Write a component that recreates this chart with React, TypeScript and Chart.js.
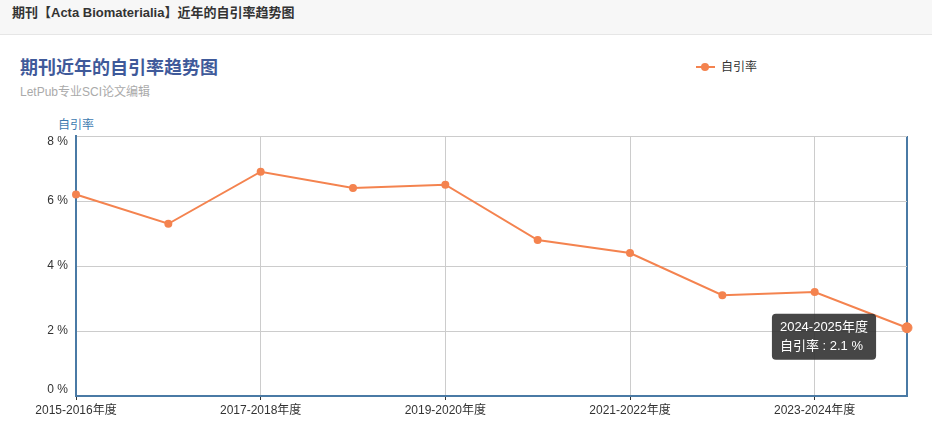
import React, { useEffect, useRef } from "react";
import { Chart, registerables, Tooltip } from "chart.js";

Chart.register(...registerables);

const categories = [
  "2015-2016年度",
  "2016-2017年度",
  "2017-2018年度",
  "2018-2019年度",
  "2019-2020年度",
  "2020-2021年度",
  "2021-2022年度",
  "2022-2023年度",
  "2023-2024年度",
  "2024-2025年度",
];
const selfCitationRate = [6.2, 5.3, 6.9, 6.4, 6.5, 4.8, 4.4, 3.1, 3.2, 2.1];
const yTicks = [0, 2, 4, 6, 8];
const seriesName = "自引率";

const FONT = '"Liberation Sans", "Noto Sans CJK SC", Arial, sans-serif';
const LINE_COLOR = "#f4834f";
const AXIS_COLOR = "#4a7aa5";
const GRID_COLOR = "#cccccc";

(Tooltip.positioners as any).fixedNear = function (items: any[]) {
  if (!items.length) return false;
  const el = items[0].element;
  return { x: el.x - 83, y: el.y + 9, xAlign: "center", yAlign: "center" };
};

export default function App() {
  const canvasRef = useRef<HTMLCanvasElement | null>(null);

  useEffect(() => {
    document.body.style.margin = "0";
    const canvas = canvasRef.current!;
    const lastIdx = categories.length - 1;
    const yMin = yTicks[0];
    const yMax = yTicks[yTicks.length - 1];
    const chart = new Chart(canvas, {
      type: "line",
      data: {
        labels: categories,
        datasets: [
          {
            label: seriesName,
            data: selfCitationRate,
            borderColor: LINE_COLOR,
            backgroundColor: LINE_COLOR,
            borderWidth: 2,
            pointRadius: 3,
            pointHoverRadius: 5,
            pointBackgroundColor: LINE_COLOR,
            pointBorderColor: LINE_COLOR,
            pointHoverBackgroundColor: LINE_COLOR,
            pointHoverBorderColor: LINE_COLOR,
            tension: 0,
            fill: false,
          },
        ],
      },
      options: {
        responsive: false,
        maintainAspectRatio: false,
        animation: false,
        events: [],
        layout: { padding: { left: 0, right: 25, top: 100, bottom: 0 } },
        plugins: {
          legend: { display: false },
          title: { display: false },
          tooltip: {
            enabled: true,
            position: "fixedNear" as any,
            backgroundColor: "rgba(50,50,50,0.9)",
            titleColor: "#ffffff",
            bodyColor: "#ffffff",
            titleFont: { family: FONT, size: 13, weight: "normal" as any },
            bodyFont: { family: FONT, size: 13 },
            titleMarginBottom: 3,
            padding: { x: 8, y: 6 },
            cornerRadius: 4,
            caretSize: 0,
            displayColors: false,
            callbacks: {
              title: (items: any[]) => items[0].label,
              label: (item: any) => `${item.dataset.label} : ${item.formattedValue} %`,
            },
          },
        },
        scales: {
          x: {
            type: "category",
            offset: false,
            afterFit: (scale: any) => {
              scale.height = 30;
            },
            border: { display: true, color: AXIS_COLOR, width: 2 },
            grid: {
              display: true,
              drawOnChartArea: true,
              drawTicks: true,
              tickLength: 4,
              color: (ctx: any) =>
                ctx.index === lastIdx ? AXIS_COLOR : ctx.index % 2 === 0 ? GRID_COLOR : "rgba(0,0,0,0)",
              lineWidth: (ctx: any) => (ctx.index === lastIdx ? 2 : 1),
              tickColor: (ctx: any) => (ctx.index % 2 === 0 ? "#333333" : "rgba(0,0,0,0)"),
            },
            ticks: {
              autoSkip: false,
              maxRotation: 0,
              minRotation: 0,
              padding: 3,
              color: "#333333",
              font: { family: FONT, size: 12 },
              callback: (_v: any, i: number) => (i % 2 === 0 ? categories[i] : ""),
            },
          },
          y: {
            min: yMin,
            max: yMax,
            afterFit: (scale: any) => {
              scale.width = 76;
            },
            afterBuildTicks: (scale: any) => {
              scale.ticks = yTicks.map((v) => ({ value: v }));
            },
            border: { display: true, color: AXIS_COLOR, width: 2 },
            grid: {
              color: GRID_COLOR,
              lineWidth: 1,
              drawTicks: false,
            },
            ticks: {
              padding: 8,
              color: "#333333",
              font: { family: FONT, size: 12, lineHeight: 1 },
              callback: (v: any) => {
                const s = `${v} %`;
                if (v === yMax) return ["", s];
                if (v === yMin) return [s, ""];
                return s;
              },
            },
          },
        },
      },
    });

    const active = [{ datasetIndex: 0, index: lastIdx }];
    chart.setActiveElements(active);
    chart.tooltip!.setActiveElements(active, { x: 0, y: 0 });
    chart.update();

    return () => chart.destroy();
  }, []);

  return (
    <div style={{ position: "relative", width: 932, height: 426, background: "#ffffff", fontFamily: FONT, overflow: "hidden" }}>
      <div
        style={{
          position: "absolute",
          left: 0,
          top: 0,
          width: 932,
          height: 35,
          background: "#f7f7f7",
          borderBottom: "1px solid #e6e6e6",
          boxSizing: "border-box",
        }}
      >
        <div style={{ position: "absolute", left: 12, top: 5, fontSize: 13, fontWeight: "bold", color: "#333333", lineHeight: "16px" }}>
          期刊【Acta Biomaterialia】近年的自引率趋势图
        </div>
      </div>
      <div style={{ position: "absolute", left: 20, top: 57, fontSize: 18, fontWeight: "bold", color: "#3f5a9a", lineHeight: "22px" }}>
        期刊近年的自引率趋势图
      </div>
      <div style={{ position: "absolute", left: 20, top: 85, fontSize: 12, color: "#aaaaaa", lineHeight: "14px" }}>
        LetPub专业SCI论文编辑
      </div>
      <div style={{ position: "absolute", left: 696, top: 60, height: 14, width: 80 }}>
        <div style={{ position: "absolute", left: 0, top: 6, width: 19, height: 2, background: LINE_COLOR }} />
        <div style={{ position: "absolute", left: 5, top: 3, width: 8, height: 8, borderRadius: 4, background: LINE_COLOR }} />
        <div style={{ position: "absolute", left: 25, top: 0, fontSize: 12, color: "#333333", lineHeight: "14px" }}>{seriesName}</div>
      </div>
      <div style={{ position: "absolute", left: 58, top: 118, fontSize: 12, color: "#3d7ab0", lineHeight: "14px" }}>
        {seriesName}
      </div>
      <canvas ref={canvasRef} width={932} height={390} style={{ position: "absolute", left: 0, top: 36, width: 932, height: 390 }} />
    </div>
  );
}
